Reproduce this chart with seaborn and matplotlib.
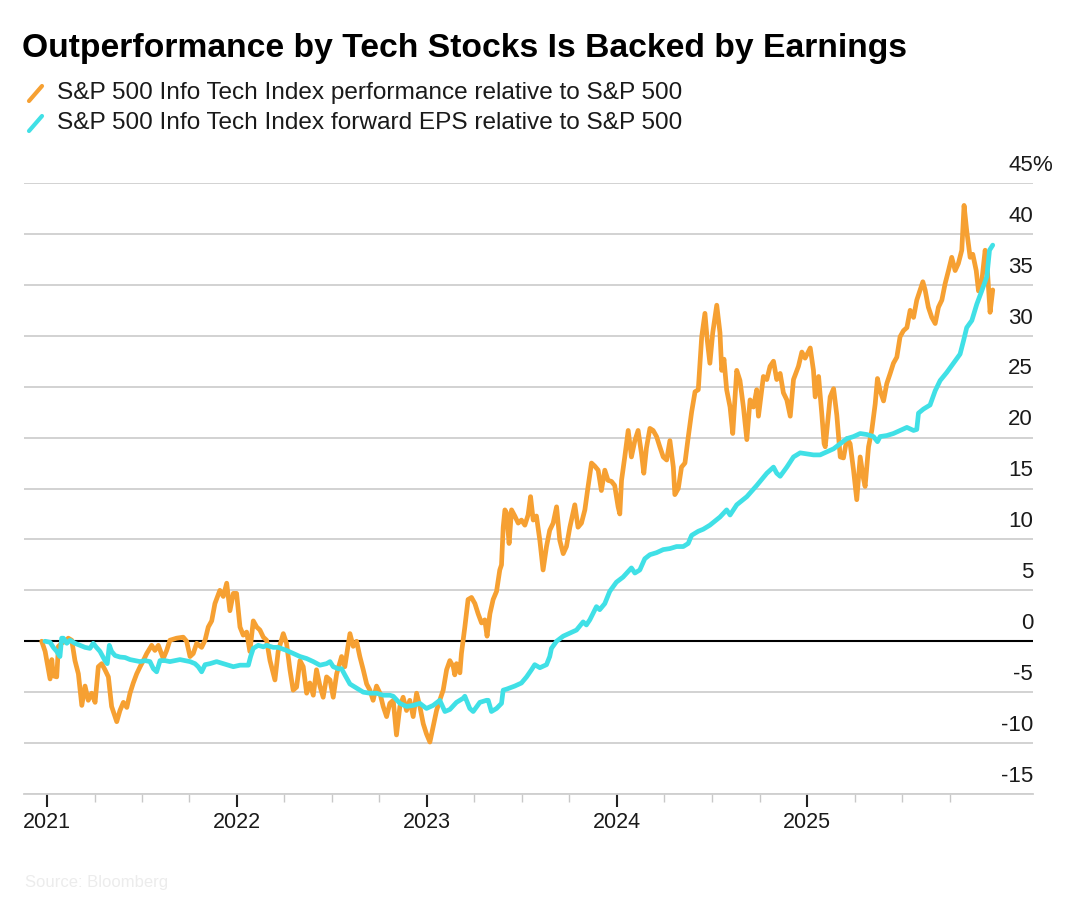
import numpy as np
import pandas as pd
import matplotlib
matplotlib.use("Agg")
import matplotlib.pyplot as plt
from matplotlib.lines import Line2D
import seaborn as sns

# ---------------- data (decimal years, % relative to S&P 500) ----------------
perf_t = [2020.972, 2020.99, 2021.016, 2021.025, 2021.033, 2021.051, 2021.06, 2021.077, 2021.095, 2021.112,
          2021.13, 2021.147, 2021.165, 2021.183, 2021.2, 2021.217, 2021.235, 2021.253, 2021.27, 2021.288,
          2021.305, 2021.323, 2021.34, 2021.367, 2021.384, 2021.402, 2021.42, 2021.437, 2021.454, 2021.472,
          2021.49, 2021.507, 2021.525, 2021.551, 2021.568, 2021.586, 2021.612, 2021.63, 2021.647, 2021.682,
          2021.717, 2021.735, 2021.753, 2021.77, 2021.788, 2021.814, 2021.832, 2021.849, 2021.867, 2021.884,
          2021.91, 2021.928, 2021.946, 2021.963, 2021.981, 2021.998, 2022.016, 2022.033, 2022.051, 2022.068,
          2022.086, 2022.104, 2022.121, 2022.139, 2022.156, 2022.174, 2022.2, 2022.217, 2022.244, 2022.261,
          2022.279, 2022.296, 2022.314, 2022.332, 2022.349, 2022.367, 2022.384, 2022.402, 2022.419, 2022.437,
          2022.454, 2022.472, 2022.49, 2022.507, 2022.525, 2022.551, 2022.568, 2022.595, 2022.612, 2022.63,
          2022.647, 2022.665, 2022.683, 2022.7, 2022.717, 2022.735, 2022.753, 2022.77, 2022.788, 2022.805,
          2022.823, 2022.84, 2022.858, 2022.875, 2022.893, 2022.91, 2022.928, 2022.946, 2022.963, 2022.981,
          2022.998, 2023.016, 2023.033, 2023.051, 2023.068, 2023.086, 2023.104, 2023.121, 2023.139, 2023.147,
          2023.156, 2023.174, 2023.182, 2023.2, 2023.217, 2023.235, 2023.253, 2023.27, 2023.288, 2023.305,
          2023.317, 2023.332, 2023.349, 2023.367, 2023.384, 2023.393, 2023.402, 2023.411, 2023.42, 2023.433,
          2023.446, 2023.463, 2023.481, 2023.498, 2023.516, 2023.533, 2023.546, 2023.56, 2023.577, 2023.595,
          2023.612, 2023.63, 2023.647, 2023.665, 2023.683, 2023.7, 2023.718, 2023.735, 2023.753, 2023.779,
          2023.796, 2023.814, 2023.832, 2023.849, 2023.867, 2023.884, 2023.902, 2023.919, 2023.937, 2023.954,
          2023.972, 2023.989, 2024.007, 2024.016, 2024.025, 2024.042, 2024.06, 2024.077, 2024.095, 2024.112,
          2024.13, 2024.142, 2024.156, 2024.174, 2024.191, 2024.209, 2024.226, 2024.244, 2024.262, 2024.279,
          2024.297, 2024.305, 2024.323, 2024.34, 2024.358, 2024.375, 2024.393, 2024.411, 2024.428, 2024.446,
          2024.463, 2024.475, 2024.489, 2024.504, 2024.525, 2024.542, 2024.551, 2024.563, 2024.577, 2024.595,
          2024.609, 2024.63, 2024.647, 2024.665, 2024.683, 2024.7, 2024.718, 2024.735, 2024.744, 2024.77,
          2024.788, 2024.805, 2024.823, 2024.84, 2024.858, 2024.875, 2024.893, 2024.911, 2024.928, 2024.954,
          2024.972, 2024.989, 2025.016, 2025.033, 2025.042, 2025.06, 2025.077, 2025.089, 2025.095, 2025.121,
          2025.139, 2025.156, 2025.174, 2025.191, 2025.209, 2025.226, 2025.244, 2025.261, 2025.279, 2025.296,
          2025.305, 2025.323, 2025.34, 2025.358, 2025.37, 2025.384, 2025.402, 2025.419, 2025.437, 2025.454,
          2025.472, 2025.489, 2025.507, 2025.525, 2025.542, 2025.56, 2025.577, 2025.595, 2025.609, 2025.621,
          2025.638, 2025.656, 2025.674, 2025.691, 2025.709, 2025.726, 2025.744, 2025.761, 2025.779, 2025.796,
          2025.814, 2025.826, 2025.84, 2025.858, 2025.872, 2025.89, 2025.902, 2025.919, 2025.937, 2025.949,
          2025.963, 2025.977]
perf_v = [0.0, -1.0, -3.7, -1.8, -3.4, -3.5, -0.5, -0.2, 0.0, 0.3,
          0.1, -1.9, -3.2, -6.3, -4.4, -5.8, -5.1, -6.0, -2.5, -2.2,
          -2.8, -3.5, -6.4, -7.9, -6.8, -6.0, -6.5, -5.1, -4.1, -3.2,
          -2.5, -1.9, -1.2, -0.4, -0.9, -0.4, -1.7, -0.9, 0.1, 0.3,
          0.4, 0.0, -1.5, -1.2, -0.2, -0.6, 0.1, 1.4, 2.0, 3.7,
          5.0, 4.4, 5.7, 3.0, 4.7, 4.7, 1.4, 0.6, 0.9, -1.0,
          2.0, 1.4, 1.1, 0.4, 0.1, -1.9, -3.8, -1.0, 0.75, -0.2,
          -2.8, -4.8, -4.5, -1.9, -2.5, -5.1, -4.1, -5.3, -2.8, -4.4,
          -5.5, -3.5, -3.8, -5.5, -3.2, -1.5, -2.5, 0.75, -0.5, 0.0,
          -1.5, -2.8, -4.2, -4.8, -5.8, -4.4, -5.1, -6.4, -7.4, -6.1,
          -5.8, -9.2, -6.4, -5.5, -6.8, -5.8, -7.4, -5.1, -6.4, -8.1,
          -9.1, -9.9, -8.4, -6.8, -5.8, -4.8, -2.8, -1.9, -2.5, -3.3,
          -2.2, -3.1, -1.2, 1.4, 4.1, 4.3, 3.7, 2.7, 1.8, 2.1,
          0.5, 2.7, 4.1, 4.9, 7.0, 7.5, 11.2, 12.9, 12.6, 9.6,
          12.9, 12.3, 11.6, 11.9, 11.4, 12.4, 14.2, 11.9, 12.3, 9.9,
          7.0, 9.3, 10.9, 11.6, 13.2, 9.9, 8.6, 9.3, 11.2, 13.4,
          11.2, 11.6, 12.9, 15.2, 17.5, 17.2, 16.8, 14.8, 16.8, 15.8,
          15.7, 15.3, 13.2, 12.5, 15.8, 18.1, 20.7, 18.1, 19.7, 20.7,
          18.4, 16.5, 19.0, 20.9, 20.7, 20.1, 19.1, 18.1, 17.8, 19.7,
          17.1, 14.4, 15.0, 17.1, 17.5, 20.0, 22.5, 24.5, 24.7, 29.9,
          32.2, 29.6, 27.3, 30.3, 33.0, 30.3, 26.6, 27.7, 24.7, 23.0,
          20.4, 26.6, 25.6, 23.0, 19.8, 23.7, 23.0, 24.7, 22.1, 26.0,
          25.7, 27.0, 27.5, 25.7, 26.3, 24.4, 23.7, 22.1, 25.7, 27.0,
          28.4, 27.8, 28.8, 26.6, 24.0, 26.0, 22.3, 19.4, 19.1, 24.0,
          24.8, 22.2, 18.1, 18.0, 19.9, 19.4, 16.8, 13.9, 18.1, 16.0,
          15.2, 19.1, 20.7, 23.3, 25.8, 24.6, 23.6, 25.3, 26.3, 27.3,
          27.9, 29.9, 30.5, 30.8, 32.5, 31.8, 33.5, 34.5, 35.3, 34.5,
          32.8, 31.8, 31.2, 32.8, 33.5, 35.1, 36.4, 37.7, 36.4, 37.1,
          38.4, 42.8, 40.3, 37.7, 38.0, 36.4, 34.4, 35.3, 38.4, 36.4,
          32.3, 34.5]

eps_t = [2020.989, 2021.016, 2021.033, 2021.051, 2021.068, 2021.077, 2021.086, 2021.104, 2021.121, 2021.147,
         2021.174, 2021.2, 2021.226, 2021.243, 2021.26, 2021.279, 2021.305, 2021.317, 2021.328, 2021.34,
         2021.358, 2021.384, 2021.411, 2021.437, 2021.463, 2021.49, 2021.516, 2021.542, 2021.56, 2021.577,
         2021.595, 2021.621, 2021.647, 2021.674, 2021.7, 2021.726, 2021.753, 2021.779, 2021.796, 2021.814,
         2021.832, 2021.858, 2021.893, 2021.928, 2021.954, 2021.981, 2022.016, 2022.042, 2022.06, 2022.072,
         2022.086, 2022.112, 2022.139, 2022.156, 2022.191, 2022.217, 2022.261, 2022.296, 2022.332, 2022.367,
         2022.402, 2022.437, 2022.472, 2022.49, 2022.507, 2022.533, 2022.551, 2022.568, 2022.595, 2022.63,
         2022.665, 2022.7, 2022.735, 2022.77, 2022.805, 2022.823, 2022.858, 2022.893, 2022.928, 2022.963,
         2022.998, 2023.033, 2023.068, 2023.095, 2023.121, 2023.156, 2023.191, 2023.2, 2023.226, 2023.244,
         2023.279, 2023.314, 2023.323, 2023.34, 2023.367, 2023.393, 2023.402, 2023.42, 2023.463, 2023.498,
         2023.525, 2023.551, 2023.568, 2023.595, 2023.63, 2023.647, 2023.656, 2023.683, 2023.718, 2023.753,
         2023.788, 2023.823, 2023.84, 2023.858, 2023.893, 2023.91, 2023.937, 2023.963, 2023.998, 2024.033,
         2024.077, 2024.095, 2024.121, 2024.147, 2024.174, 2024.209, 2024.244, 2024.279, 2024.314, 2024.349,
         2024.375, 2024.393, 2024.428, 2024.454, 2024.489, 2024.542, 2024.577, 2024.595, 2024.63, 2024.683,
         2024.735, 2024.788, 2024.823, 2024.84, 2024.858, 2024.893, 2024.928, 2024.963, 2024.998, 2025.033,
         2025.068, 2025.104, 2025.139, 2025.174, 2025.209, 2025.244, 2025.279, 2025.314, 2025.349, 2025.37,
         2025.384, 2025.419, 2025.454, 2025.489, 2025.525, 2025.56, 2025.577, 2025.586, 2025.612, 2025.647,
         2025.674, 2025.7, 2025.735, 2025.77, 2025.805, 2025.823, 2025.84, 2025.867, 2025.893, 2025.919,
         2025.946, 2025.96, 2025.977]
eps_v = [0.0, -0.1, -0.6, -1.0, -1.5, 0.3, 0.3, -0.2, 0.1, -0.2,
         -0.4, -0.6, -0.7, -0.2, -0.6, -1.0, -1.9, -2.2, -0.4, -1.0,
         -1.4, -1.55, -1.6, -1.8, -1.9, -2.0, -1.9, -2.0, -2.7, -3.0,
         -1.9, -1.9, -2.0, -1.9, -1.8, -1.9, -2.0, -2.2, -2.5, -3.0,
         -2.3, -2.2, -2.0, -2.2, -2.35, -2.5, -2.35, -2.35, -2.35, -1.5,
         -0.7, -0.4, -0.55, -0.4, -0.6, -0.6, -0.9, -1.2, -1.5, -1.7,
         -2.0, -2.35, -2.2, -2.0, -2.5, -2.7, -2.7, -3.3, -4.2, -4.6,
         -5.0, -5.1, -5.1, -5.3, -5.3, -5.4, -6.1, -6.4, -6.3, -6.1,
         -6.6, -6.3, -5.8, -6.9, -6.7, -6.0, -5.6, -5.4, -6.6, -6.9,
         -6.0, -5.8, -5.8, -6.9, -6.6, -6.1, -4.8, -4.7, -4.4, -4.1,
         -3.5, -2.8, -2.3, -2.6, -2.3, -1.5, -0.7, 0.0, 0.5, 0.8,
         1.1, 1.9, 1.6, 2.1, 3.4, 3.1, 3.7, 4.9, 5.8, 6.3,
         7.2, 6.7, 7.0, 8.1, 8.5, 8.7, 9.0, 9.1, 9.3, 9.3,
         9.6, 10.4, 10.8, 11.0, 11.4, 12.2, 12.9, 12.4, 13.4, 14.2,
         15.3, 16.5, 17.1, 16.5, 16.2, 17.1, 18.1, 18.5, 18.4, 18.3,
         18.3, 18.6, 18.9, 19.4, 19.9, 20.1, 20.4, 20.3, 20.1, 19.6,
         20.1, 20.2, 20.4, 20.7, 21.0, 20.7, 20.8, 22.4, 22.8, 23.2,
         24.6, 25.6, 26.4, 27.3, 28.2, 29.5, 30.8, 31.5, 33.1, 34.4,
         35.8, 38.4, 38.9]

series_names = ["S&P 500 Info Tech Index performance relative to S&P 500",
                "S&P 500 Info Tech Index forward EPS relative to S&P 500"]
series_colors = ["#f6a032", "#40e0e6"]
title_text = "Outperformance by Tech Stocks Is Backed by Earnings"
y_ticks = [-15, -10, -5, 0, 5, 10, 15, 20, 25, 30, 35, 40, 45]
year_ticks = [2021, 2022, 2023, 2024, 2025]
year_labels = ["2021", "2022", "2023", "2024", "2025"]


def to_dates(ts):
    out = []
    for t in ts:
        y = int(np.floor(t))
        start = pd.Timestamp(year=y, month=1, day=1)
        ndays = (pd.Timestamp(year=y + 1, month=1, day=1) - start).days
        out.append(start + pd.Timedelta(days=(t - y) * ndays))
    return out


df = pd.concat([
    pd.DataFrame({"date": to_dates(perf_t), "value": perf_v, "series": series_names[0]}),
    pd.DataFrame({"date": to_dates(eps_t), "value": eps_v, "series": series_names[1]}),
], ignore_index=True)

# ---------------- figure ----------------
sns.set_theme(style="white")
plt.rcParams["font.family"] = ["Liberation Sans", "DejaVu Sans"]

W, H = 1080, 908
fig = plt.figure(figsize=(W / 100, H / 100), dpi=100)
fig.patch.set_facecolor("white")


def fx(px):
    return px / W


def fy(py):
    return 1 - py / H


ax = fig.add_axes([fx(24), fy(794), fx(1033) - fx(24), fy(183) - fy(794)])
ax.set_facecolor("white")

sns.lineplot(data=df, x="date", y="value", hue="series", hue_order=series_names,
             palette=series_colors, estimator=None, sort=True, legend=False,
             linewidth=3.4, ax=ax, zorder=3)

x_left = to_dates([2020.879])[0]
x_right = to_dates([2026.189])[0]
ax.set_xlim(x_left, x_right)
ax.set_ylim(-15, 45)

# y grid
ax.set_yticks(y_ticks)
ax.yaxis.grid(True, color="#cfcfcf", linewidth=1.3, zorder=0)
ax.tick_params(axis="y", left=False, right=False, labelleft=False, labelright=False)
ax.axhline(0, color="black", linewidth=1.5, zorder=2)

for s in ["top", "right", "left"]:
    ax.spines[s].set_visible(False)
ax.spines["bottom"].set_color("#cfcfcf")
ax.spines["bottom"].set_linewidth(1.3)

# y labels above grid lines
ytr = ax.get_yaxis_transform()
for v in y_ticks:
    ax.text(1.0, v + 1.2, f"{v}", transform=ytr, ha="right", va="baseline",
            fontsize=16, color="#1a1a1a")
    if v == y_ticks[-1]:
        ax.text(0.9995, v + 1.2, "%", transform=ytr, ha="left", va="baseline",
                fontsize=16, color="#1a1a1a")

# x ticks
major = to_dates(year_ticks)
minor_t = [y + q for y in year_ticks for q in (0.25, 0.5, 0.75)]
minor = to_dates(minor_t)
ax.set_xticks(major)
ax.set_xticklabels(year_labels)
ax.set_xticks(minor, minor=True)
ax.tick_params(axis="x", which="major", direction="out", length=9, width=1.5,
               color="#222222", labelsize=15.5, labelcolor="#1a1a1a", pad=4, bottom=True)
ax.tick_params(axis="x", which="minor", direction="out", length=6, width=1.0,
               color="#c8c8c8", bottom=True)
ax.set_xlabel("")
ax.set_ylabel("")

# title and legend
fig.text(fx(22), fy(49), title_text, fontsize=24.2, fontweight="bold",
         ha="left", va="center", color="black")
for i, (name, col) in enumerate(zip(series_names, series_colors)):
    yc = 93 + 30 * i
    fig.add_artist(Line2D([fx(29), fx(42)], [fy(yc + 8), fy(yc - 7)],
                          color=col, linewidth=3.0, solid_capstyle="round"))
    fig.text(fx(57), fy(yc), name, fontsize=17.6, ha="left", va="center", color="#1a1a1a")

# faint source note
fig.text(fx(25), fy(882), "Source: Bloomberg", fontsize=12, color="#ececec",
         ha="left", va="center")

fig.savefig("out.png", dpi=100, facecolor="white")
